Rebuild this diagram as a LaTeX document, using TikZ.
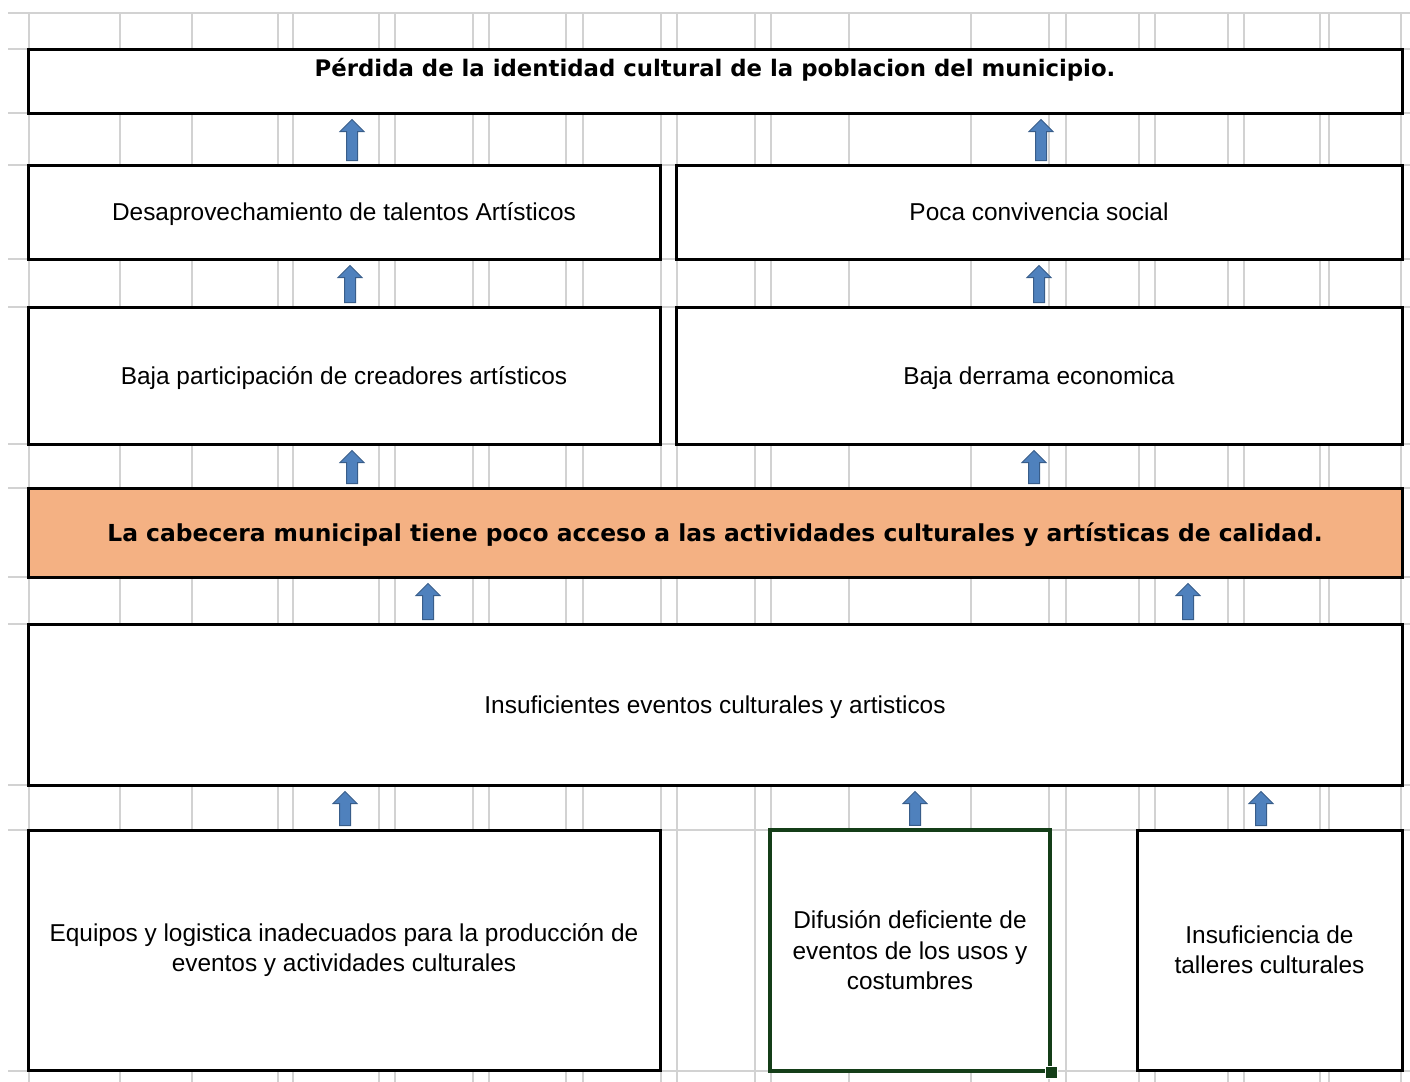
\documentclass[tikz,border=0pt]{standalone}
\usepackage{fontspec}
\setmainfont{Liberation Sans}
\newfontfamily\negrita{DejaVu Sans}
\usetikzlibrary{calc}

\definecolor{naranja}{RGB}{244,177,131}
\definecolor{azulflecha}{RGB}{79,129,189}
\definecolor{bordeflecha}{RGB}{56,93,138}
\definecolor{rejilla}{RGB}{210,210,210}
\definecolor{verdeexcel}{RGB}{20,62,24}

\tikzset{
  caja/.style={draw=black, line width=1.5pt, fill=white, inner sep=0pt, align=center,
    font=\fontsize{12.2}{15.25}\selectfont},
  unalinea/.style={text height=8.8pt, text depth=0pt},
  titulo/.style={font=\negrita\bfseries\fontsize{11.4}{14}\selectfont},
  flecha/.style={fill=azulflecha, draw=bordeflecha, line width=0.5pt, line join=miter},
  lineagris/.style={draw=rejilla, line width=0.8pt}
}

% flecha de bloque: de #1 (caja de abajo) hasta #2 (caja de arriba)
\newcommand{\flecha}[2]{%
  \draw[flecha] let \p1=(#1), \p2=(#2) in
    (\x1-2.75pt,\y1+1.5pt) -- (\x1-2.75pt,\y2-8.5pt) -- (\x1-6pt,\y2-8.5pt)
    -- (\x1,\y2-2.5pt) -- (\x1+6pt,\y2-8.5pt) -- (\x1+2.75pt,\y2-8.5pt)
    -- (\x1+2.75pt,\y1+1.5pt) -- cycle;}

\begin{document}
\begin{tikzpicture}[x=0.5pt, y=-0.5pt]
  \useasboundingbox (0,0) rectangle (1410,1082);

  % rejilla de la hoja
  \foreach \gx in {29,120,192,278,293,379,395,473,489,566,583,661,677,755,771,849,971,1049,1066,1139,1155,1228,1244,1320,1329,1401}
    \draw[lineagris] (\gx,13) -- (\gx,1082);
  \foreach \gy in {13,49,113,165,259,307,444,488,577,624,785,830,1071}
    \draw[lineagris] (8,\gy) -- (1410,\gy);

  % efectos
  \node[caja, titulo, minimum width=687pt, minimum height=32pt, text height=13.5pt, text depth=18.5pt]
    (perdida) at (715,81) {Pérdida de la identidad cultural de la poblacion del municipio.};
  \node[caja, unalinea, minimum width=316pt, minimum height=47pt] (desap) at (344,212)
    {Desaprovechamiento de talentos Artísticos};
  \node[caja, unalinea, minimum width=363pt, minimum height=47pt] (poca) at (1039,212)
    {Poca convivencia social};
  \node[caja, unalinea, minimum width=316pt, minimum height=68.5pt] (bajapart) at (344,375.5)
    {Baja participación de creadores artísticos};
  \node[caja, unalinea, minimum width=363pt, minimum height=68.5pt] (derrama) at (1039,375.5)
    {Baja derrama economica};

  % problema central
  \node[caja, titulo, fill=naranja, font=\negrita\bfseries\fontsize{11.7}{14}\selectfont,
    text height=8.5pt, text depth=0pt, minimum width=687pt, minimum height=44.5pt] (cabecera) at (715,532.5)
    {La cabecera municipal tiene poco acceso a las actividades culturales y artísticas de calidad.};

  % causas
  \node[caja, unalinea, minimum width=687pt, minimum height=80.5pt] (insuf) at (715,704.5)
    {Insuficientes eventos culturales y artisticos};
  \node[caja, minimum width=316pt, minimum height=120pt] (equipos) at (344,950)
    {Equipos y logistica inadecuados para la producción de\\eventos y actividades culturales};
  \node[caja, draw=verdeexcel, line width=1.6pt, minimum width=140pt, minimum height=120.5pt] (difusion) at (910,950.5)
    {Difusión deficiente de\\eventos de los usos y\\costumbres};
  \node[caja, minimum width=132.5pt, minimum height=120pt] (talleres) at (1269.5,950)
    {Insuficiencia de\\talleres culturales};
  \fill[verdeexcel, draw=white, line width=0.5pt] ([shift={(-3pt,-3pt)}]difusion.south east)
    rectangle ([shift={(3pt,3pt)}]difusion.south east);

  % flechas
  \flecha{352,0 |- desap.north}{perdida.south}
  \flecha{1041,0 |- poca.north}{perdida.south}
  \flecha{350,0 |- bajapart.north}{desap.south}
  \flecha{1039,0 |- derrama.north}{poca.south}
  \flecha{352,0 |- cabecera.north}{bajapart.south}
  \flecha{1034,0 |- cabecera.north}{derrama.south}
  \flecha{428,0 |- insuf.north}{cabecera.south}
  \flecha{1188,0 |- insuf.north}{cabecera.south}
  \flecha{345,0 |- equipos.north}{insuf.south}
  \flecha{915,0 |- difusion.north}{insuf.south}
  \flecha{1261,0 |- talleres.north}{insuf.south}
\end{tikzpicture}
\end{document}
